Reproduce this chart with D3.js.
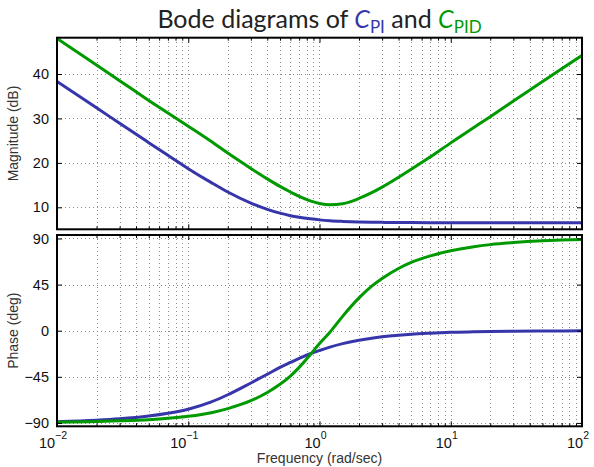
<!DOCTYPE html>
<html>
<head>
<meta charset="utf-8">
<script src="https://cdn.jsdelivr.net/npm/d3@7/dist/d3.min.js"></script>
<style>
  body { margin: 0; background: #fff; }
  svg { display: block; }
</style>
</head>
<body>
<svg class="chart" width="594" height="467"></svg>
<script>
var freq = [0.01, 0.02, 0.03, 0.05, 0.07, 0.1, 0.15, 0.2, 0.3, 0.4, 0.5, 0.6, 0.7, 0.85, 1,
            1.2, 1.5, 2, 2.5, 3, 4, 5, 7, 10, 15, 20, 30, 50, 70, 100];

var magPI = [38.3, 32.4, 28.9, 24.55, 21.7, 18.7, 15.55, 13.45, 10.95, 9.55, 8.68, 8.12, 7.76, 7.41, 7.17,
             6.98, 6.83, 6.7, 6.64, 6.61, 6.57, 6.56, 6.55, 6.54, 6.53, 6.53, 6.53, 6.53, 6.53, 6.53];
var magPID = [48.0, 42.0, 38.5, 34.05, 31.2, 28.25, 24.8, 22.2, 18.75, 16.4, 14.7, 13.45, 12.45, 11.45, 10.85,
              10.55, 10.8, 12.0, 13.3, 14.55, 16.75, 18.55, 21.35, 24.5, 27.95, 30.4, 33.9, 38.3, 41.2, 44.2];

var phasePI = [-88.8, -87.4, -86, -83.3, -80.6, -76.6, -69.5, -62.5, -51, -42.5, -35.8, -31, -27, -22.5, -19.3,
               -16, -12.6, -9.3, -7.3, -6, -4.4, -3.4, -2.4, -1.6, -1.1, -0.8, -0.5, -0.3, -0.2, -0.15];
var phasePID = [-89.3, -88.7, -88, -86.8, -85.5, -83.5, -80, -76, -68.3, -60.3, -52.3, -44.3, -35.8, -23.5, -12.5,
                -1.5, 14, 32, 43.5, 51, 60.7, 66.6, 73, 78, 82, 84, 86, 87.7, 88.4, 88.9];

var magTicks = [10, 20, 30, 40];
var phaseTicks = [-90, -45, 0, 45, 90];
var freqTicks = [0.01, 0.1, 1, 10, 100];
var freqExp = ["\u22122", "\u22121", "0", "1", "2"];

var colPI = "#3636aa", colPID = "#009a00";

var svg = d3.select("svg.chart"),
    left = 57, right = 582,
    magTop = 37.7, magBot = 229.3,
    phTop = 235, phBot = 426.3,
    font = "Liberation Sans, Arial, sans-serif";

var x = d3.scaleLog().domain([0.01, 100]).range([left, right]);
var yMag = d3.scaleLinear().domain([5.05, 48.17]).range([magBot, magTop]);
var yPh = d3.scaleLinear().domain([-93.3, 93.4]).range([phBot, phTop]);

// minor x positions (2..9 per decade)
var minor = [];
[0.01, 0.1, 1, 10].forEach(function (d) {
  for (var k = 2; k < 10; k++) minor.push(d * k);
});

function panel(name, y, top, bot, ticks, series) {
  var g = svg.append("g").attr("class", name);

  g.append("clipPath").attr("id", "clip-" + name)
    .append("rect").attr("x", left).attr("y", top).attr("width", right - left).attr("height", bot - top);

  // dotted grid
  g.selectAll("line.vg").data(freqTicks.concat(minor)).enter().append("line")
    .attr("class", "vg")
    .attr("x1", function (d) { return Math.round(x(d)) + 0.5; })
    .attr("x2", function (d) { return Math.round(x(d)) + 0.5; })
    .attr("y1", top).attr("y2", bot);
  g.selectAll("line.hg").data(ticks).enter().append("line")
    .attr("class", "hg")
    .attr("x1", left).attr("x2", right)
    .attr("y1", function (d) { return Math.round(y(d)) + 0.5; })
    .attr("y2", function (d) { return Math.round(y(d)) + 0.5; });
  g.selectAll("line.vg, line.hg")
    .attr("stroke", "#8c8c8c").attr("stroke-width", 1).attr("stroke-dasharray", "1,3")
    .attr("shape-rendering", "crispEdges");

  var line = d3.line()
    .x(function (d, i) { return x(freq[i]); })
    .y(function (d) { return y(d); })
    .curve(d3.curveMonotoneX);

  g.append("g").attr("clip-path", "url(#clip-" + name + ")")
    .selectAll("path").data(series).enter().append("path")
    .attr("d", function (s) { return line(s.values); })
    .attr("fill", "none")
    .attr("stroke", function (s) { return s.color; })
    .attr("stroke-width", 3);

  // inward ticks on all sides
  var yl = d3.axisLeft(y).tickValues(ticks).tickSizeInner(-5).tickSizeOuter(0).tickPadding(8)
    .tickFormat(function (d) { return d < 0 ? "\u2212" + (-d) : d; });
  var yr = d3.axisRight(y).tickValues(ticks).tickSizeInner(-5).tickSizeOuter(0).tickFormat("");
  var xt = d3.axisTop(x).tickValues(freqTicks).tickSizeInner(-5).tickSizeOuter(0).tickFormat("");
  var xb = d3.axisBottom(x).tickValues(freqTicks).tickSizeInner(-5).tickSizeOuter(0).tickFormat("");
  var xtm = d3.axisTop(x).tickValues(minor).tickSizeInner(-3).tickSizeOuter(0).tickFormat("");
  var xbm = d3.axisBottom(x).tickValues(minor).tickSizeInner(-3).tickSizeOuter(0).tickFormat("");

  g.append("g").attr("class", "yl").attr("transform", "translate(" + left + ",0)").call(yl);
  g.append("g").attr("transform", "translate(" + right + ",0)").call(yr);
  g.append("g").attr("transform", "translate(0," + top + ")").call(xt);
  g.append("g").attr("transform", "translate(0," + bot + ")").call(xb);
  g.append("g").attr("transform", "translate(0," + top + ")").call(xtm);
  g.append("g").attr("transform", "translate(0," + bot + ")").call(xbm);

  g.selectAll(".domain").remove();
  g.selectAll(".tick line").attr("stroke", "#000").attr("stroke-width", 1);
  g.selectAll(".yl text").attr("fill", "#111").style("font-family", font).style("font-size", "14.5px");

  g.append("rect").attr("x", left).attr("y", top).attr("width", right - left).attr("height", bot - top)
    .attr("fill", "none").attr("stroke", "#000").attr("stroke-width", 2);
  return g;
}

panel("mag", yMag, magTop, magBot, magTicks, [
  { values: magPI, color: colPI },
  { values: magPID, color: colPID }
]);
panel("phase", yPh, phTop, phBot, phaseTicks, [
  { values: phasePI, color: colPI },
  { values: phasePID, color: colPID }
]);

// x tick labels 10^n
var xl = svg.append("g").style("font-family", font).attr("fill", "#111");
var lab = xl.selectAll("text").data(freqTicks).enter().append("text")
  .attr("x", function (d) { return x(d) - 4; })
  .attr("y", 448)
  .attr("text-anchor", "middle")
  .style("font-size", "14.5px");
lab.append("tspan").text("10");
lab.append("tspan").attr("dy", -9).style("font-size", "10.5px")
  .text(function (d, i) { return freqExp[i]; });

// axis titles
svg.append("text").attr("x", (left + right) / 2).attr("y", 463).attr("text-anchor", "middle")
  .style("font-family", font).style("font-size", "14px").attr("fill", "#333")
  .text("Frequency (rad/sec)");
svg.append("text").attr("transform", "translate(18," + (magTop + magBot) / 2 + ") rotate(-90)")
  .attr("text-anchor", "middle").style("font-family", font).style("font-size", "14px").attr("fill", "#333")
  .text("Magnitude (dB)");
svg.append("text").attr("transform", "translate(18," + (phTop + phBot) / 2 + ") rotate(-90)")
  .attr("text-anchor", "middle").style("font-family", font).style("font-size", "14px").attr("fill", "#333")
  .text("Phase (deg)");

// title
var title = svg.append("text").attr("x", (left + right) / 2).attr("y", 28).attr("text-anchor", "middle")
  .style("font-family", "Lato, DejaVu Sans, sans-serif").style("font-size", "25px").attr("fill", "#222");
title.append("tspan").text("Bode diagrams of ");
title.append("tspan").attr("fill", colPI).style("font-style", "italic").text("C");
title.append("tspan").attr("fill", colPI).attr("dy", 5).style("font-size", "17px").text("PI");
title.append("tspan").attr("dy", -5).text(" and ");
title.append("tspan").attr("fill", colPID).style("font-style", "italic").text("C");
title.append("tspan").attr("fill", colPID).attr("dy", 5).style("font-size", "17px").text("PID");
</script>
</body>
</html>
